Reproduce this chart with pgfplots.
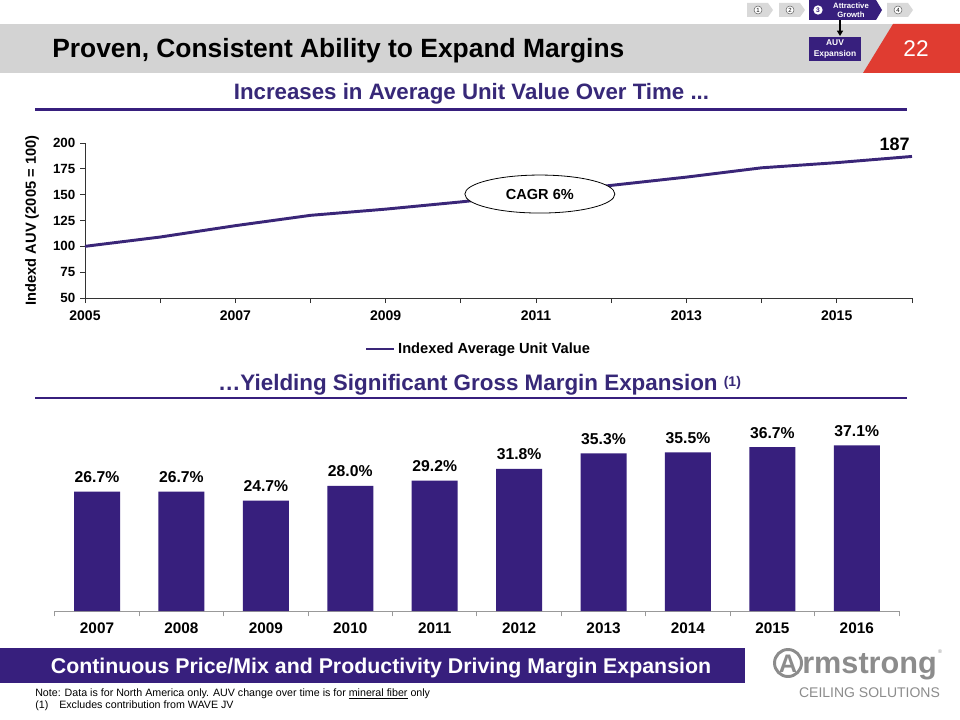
\documentclass[border=0pt]{standalone}
\usepackage{pgfplots}
\pgfplotsset{compat=1.18}
\usepackage{fontspec}
\setmainfont{Liberation Sans}
\usetikzlibrary{shapes.geometric,arrows.meta}
\definecolor{aPurple}{RGB}{55,31,125}
\definecolor{aLine}{RGB}{58,38,120}
\definecolor{aText}{RGB}{55,40,120}
\definecolor{aGray}{RGB}{211,211,211}
\definecolor{aRed}{RGB}{224,60,49}
\definecolor{navGray}{RGB}{217,217,217}
\definecolor{logoGray}{RGB}{140,140,140}
\begin{document}
\begin{tikzpicture}
\fill[white] (0,0) rectangle (720pt,-540pt);
\begin{scope}[x=0.75pt,y=-0.75pt]
% header band
\fill[aGray] (0,24) rectangle (960,73);
\fill[aRed] (893,24) -- (960,24) -- (960,73) -- (863,73) -- cycle;
\node[white, font=\fontsize{17pt}{20pt}\selectfont] at (916,49) {22};
\node[anchor=base west, inner sep=0pt, font=\bfseries\fontsize{19.8pt}{23pt}\selectfont] at (52,58) {Proven, Consistent Ability to Expand Margins};
% nav
\fill[navGray] (747,3) -- (768,3) -- (773,10) -- (768,17) -- (747,17) -- cycle;
\fill[navGray] (779,3) -- (800,3) -- (805,10) -- (800,17) -- (779,17) -- cycle;
\fill[navGray] (887,3) -- (908,3) -- (913,10) -- (908,17) -- (887,17) -- cycle;
\fill[aPurple] (809,0) -- (876,0) -- (882,10) -- (876,20) -- (809,20) -- cycle;
\node[circle, draw=black!60, fill=white, inner sep=0pt, minimum size=6pt, font=\fontsize{4.5pt}{5pt}\selectfont] at (758,10) {1};
\node[circle, draw=black!60, fill=white, inner sep=0pt, minimum size=6pt, font=\fontsize{4.5pt}{5pt}\selectfont] at (790,10) {2};
\node[circle, draw=black!60, fill=white, inner sep=0pt, minimum size=6pt, font=\fontsize{4.5pt}{5pt}\selectfont] at (898,10) {4};
\node[circle, fill=white, inner sep=0pt, minimum size=7pt, text=aPurple, font=\bfseries\fontsize{5pt}{5pt}\selectfont] at (818,10) {3};
\node[white, align=center, inner sep=0pt, font=\bfseries\fontsize{5.8pt}{6.6pt}\selectfont] at (851,10) {Attractive\\Growth};
\draw[-{Triangle[length=4pt,width=4.5pt]}, line width=1pt] (840,20) -- (840,36);
\fill[aPurple] (809,37) rectangle (861,61);
\node[white, align=center, inner sep=0pt, font=\bfseries\fontsize{6.3pt}{7.6pt}\selectfont] at (835,49) {AUV\\Expansion};
% subtitles
\node[anchor=base, inner sep=0pt, text=aText, font=\bfseries\fontsize{16.7pt}{19pt}\selectfont] at (471.5,100) {Increases in Average Unit Value Over Time ...};
\draw[aPurple, line width=2pt] (35,109.5) -- (907,109.5);
\node[anchor=base, inner sep=0pt, text=aText, font=\bfseries\fontsize{16.8pt}{19pt}\selectfont] at (479.5,390) {…Yielding Significant Gross Margin Expansion \raisebox{3pt}{\fontsize{10.5pt}{12pt}\selectfont(1)}};
\draw[aPurple, line width=2pt] (35,398) -- (907,398);
% banner
\fill[aPurple] (0,648) rectangle (745,683);
\node[anchor=base, inner sep=0pt, text=white, font=\bfseries\fontsize{16pt}{19pt}\selectfont] at (381,673) {Continuous Price/Mix and Productivity Driving Margin Expansion};
% logo
\draw[logoGray, line width=2.2pt] (788,663) circle (13.5);
\node[text=logoGray, inner sep=0pt, font=\bfseries\fontsize{19pt}{22pt}\selectfont] at (788,663.5) {A};
\node[anchor=base west, inner sep=0pt, text=logoGray, font=\bfseries\fontsize{23pt}{26pt}\selectfont] at (802,673) {rmstrong};
\node[text=logoGray, inner sep=0pt, font=\fontsize{4pt}{5pt}\selectfont] at (940,652) {®};
\node[anchor=base, inner sep=0pt, text=logoGray, font=\fontsize{10.5pt}{12pt}\selectfont] at (869.5,697) {CEILING SOLUTIONS};
% notes
\node[anchor=base west, inner sep=0pt, font=\fontsize{8pt}{9pt}\selectfont] at (35,696) {Note: Data is for North America only. AUV change over time is for \underline{mineral fiber} only};
\node[anchor=base west, inner sep=0pt, font=\fontsize{8pt}{9pt}\selectfont] at (35,708) {(1)};
\node[anchor=base west, inner sep=0pt, font=\fontsize{8pt}{9pt}\selectfont] at (59,708) {Excludes contribution from WAVE JV};
\end{scope}

% line chart
\begin{axis}[
  at={(63.75pt,-223.5pt)}, anchor=south west,
  scale only axis, width=620.25pt, height=116.25pt,
  xmin=2005, xmax=2016, ymin=50, ymax=200,
  axis x line=bottom, axis y line=left,
  axis line style={-, black!80, line width=0.6pt},
  xtick={2005,...,2016},
  xticklabels={2005,,2007,,2009,,2011,,2013,,2015,},
  ytick={50,75,...,200},
  tick align=outside, major tick length=3.75pt,
  tick style={black!80, line width=0.6pt},
  xticklabel style={font=\bfseries\fontsize{10.5pt}{12pt}\selectfont, yshift=-2pt},
  yticklabel style={font=\bfseries\fontsize{10pt}{12pt}\selectfont},
  /pgf/number format/assume math mode=true,
  ylabel={Indexd AUV (2005 = 100)},
  ylabel style={at={(axis description cs:-0.0641,0.5)}, anchor=center, font=\bfseries\fontsize{11pt}{13pt}\selectfont},
  legend style={at={(axis description cs:0.476,-0.329)}, anchor=center, draw=none, fill=none, inner sep=0pt,
    font=\bfseries\fontsize{11pt}{13pt}\selectfont},
  legend image code/.code={\draw[#1] (0pt,0pt) -- (21pt,0pt);},
  clip=false,
]
\addplot[aLine, line width=2.2pt, line join=round] coordinates {
(2005,100) (2006,109) (2007,120) (2008,130) (2009,136) (2010,143)
(2011,151) (2012,159) (2013,167) (2014,176) (2015,181) (2016,187)};
\addlegendentry{Indexed Average Unit Value}
\node[anchor=base east, inner sep=0pt, xshift=-1.5pt, yshift=4.5pt, font=\bfseries\fontsize{13.5pt}{16pt}\selectfont] at (axis cs:2016,187) {187};
\node[draw=black, line width=0.6pt, ellipse, fill=white, minimum width=112.5pt, minimum height=28.5pt, inner sep=0pt,
  font=\bfseries\fontsize{10.9pt}{13pt}\selectfont] at (axis cs:2011.05,150.6) {CAGR 6\%};
\end{axis}

% bar chart
\begin{axis}[
  at={(41.1pt,-458.25pt)}, anchor=south west,
  scale only axis, width=633.15pt, height=150.75pt,
  xmin=-0.5, xmax=9.5, ymin=0, ymax=45,
  axis x line=bottom, axis y line=none,
  axis line style={-, black!40, line width=0.75pt},
  xtick={0,...,9},
  xticklabels={2007,2008,2009,2010,2011,2012,2013,2014,2015,2016},
  major tick length=0pt,
  minor xtick={-0.5,0.5,...,9.5},
  minor tick length=4pt, tick align=outside,
  minor tick style={black!40, line width=0.75pt},
  xticklabel style={font=\bfseries\fontsize{11.5pt}{13pt}\selectfont, yshift=-5.5pt},
  /pgf/number format/assume math mode=true,
  ybar, bar width=34.5pt,
  nodes near coords={\pgfmathprintnumber[fixed,fixed zerofill,precision=1]{\pgfplotspointmeta}\%},
  nodes near coords style={font=\bfseries\fontsize{11.8pt}{14pt}\selectfont, anchor=base, yshift=6.75pt, text=black},
  clip=false,
]
\addplot[fill=aPurple, draw=none] coordinates {
(0,26.7) (1,26.7) (2,24.7) (3,28.0) (4,29.2) (5,31.8) (6,35.3) (7,35.5) (8,36.7) (9,37.1)};
\end{axis}
\pgfresetboundingbox
\path[use as bounding box] (0,0) rectangle (720pt,-540pt);
\end{tikzpicture}
\end{document}
